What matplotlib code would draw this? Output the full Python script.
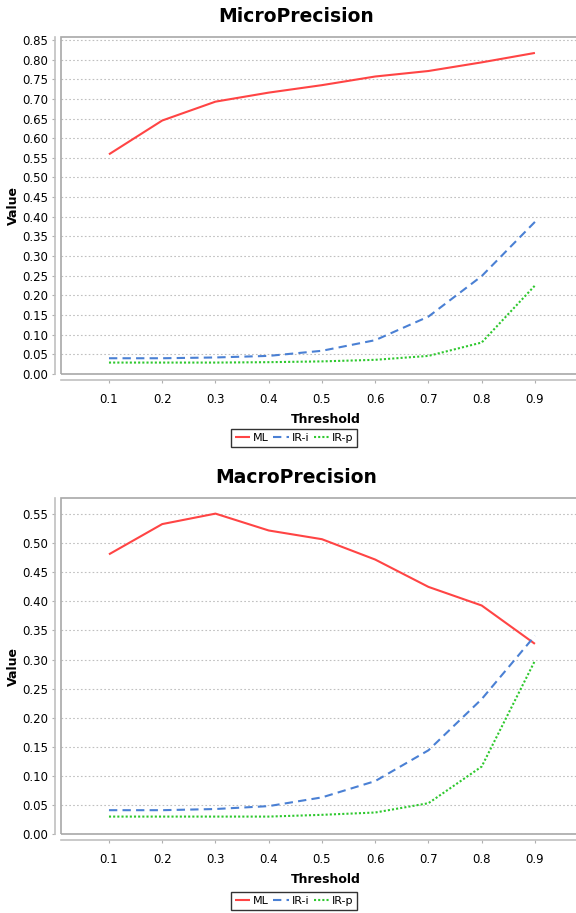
import matplotlib
matplotlib.use("Agg")
import matplotlib.pyplot as plt
from matplotlib.patches import Rectangle

plt.rcParams['font.family'] = ['DejaVu Sans']

thresholds = [0.1, 0.2, 0.3, 0.4, 0.5, 0.6, 0.7, 0.8, 0.9]
tick_labels = ['0.1', '0.2', '0.3', '0.4', '0.5', '0.6', '0.7', '0.8', '0.9']

# MicroPrecision
micro_ml = [0.559, 0.645, 0.693, 0.716, 0.735, 0.757, 0.771, 0.793, 0.817]
micro_iri = [0.040, 0.040, 0.042, 0.046, 0.059, 0.086, 0.146, 0.249, 0.387]
micro_irp = [0.029, 0.029, 0.029, 0.030, 0.032, 0.036, 0.046, 0.080, 0.225]

# MacroPrecision
macro_ml = [0.481, 0.533, 0.551, 0.522, 0.507, 0.472, 0.425, 0.393, 0.327]
macro_iri = [0.041, 0.041, 0.043, 0.048, 0.063, 0.091, 0.144, 0.232, 0.341]
macro_irp = [0.030, 0.030, 0.030, 0.030, 0.033, 0.037, 0.053, 0.116, 0.298]

series_names = ['ML', 'IR-i', 'IR-p']

RED = '#ff4444'
BLUE = '#4a80d4'
GREEN = '#2ec82e'
GRAY = '#a8a8a8'


def draw_panel(ax, ml, iri, irp, ymax):
    ax.plot(thresholds, ml, color=RED, lw=1.5, solid_capstyle='butt')
    ax.plot(thresholds, iri, color=BLUE, lw=1.5, dashes=(4, 2.5))
    ax.plot(thresholds, irp, color=GREEN, lw=1.5, dashes=(1, 1))

    ax.set_xlim(0.0099, 1.003)
    ax.set_ylim(0, ymax)
    ax.set_xticks(thresholds)
    ax.set_xticklabels(tick_labels)
    yt = [i * 0.05 for i in range(int(ymax / 0.05 + 1e-6) + 1)]
    ax.set_yticks(yt)
    ax.set_yticklabels(['%.2f' % v for v in yt])

    ax.yaxis.grid(True, color='#c0c0c0', ls=(0, (1.5, 2)), lw=0.8)
    ax.set_axisbelow(True)

    for s in ['top', 'right']:
        ax.spines[s].set_visible(False)
    for s in ['left', 'bottom']:
        ax.spines[s].set_position(('outward', 4))
        ax.spines[s].set_color('#c0c0c0')
        ax.spines[s].set_linewidth(1.2)
    # plot frame; the right side runs past the figure edge
    ax.add_patch(Rectangle((0, 0), 1, 1, transform=ax.transAxes, fill=False,
                           ec=GRAY, lw=1.2, clip_on=False, zorder=5))

    ax.tick_params(axis='both', colors='#b0b0b0', labelcolor='black',
                   labelsize=8.5, length=2, width=0.8, pad=3)
    ax.tick_params(axis='x', pad=8)

    ax.set_xlabel('Threshold', fontsize=9, fontweight='bold', labelpad=5)
    ax.set_ylabel('Value', fontsize=9, fontweight='bold', labelpad=2)


fig = plt.figure(figsize=(5.76, 9.13), dpi=100)
ax1 = fig.add_axes([0.1059, 0.5904, 0.918, 0.3691])
ax2 = fig.add_axes([0.1059, 0.0865, 0.918, 0.3675])

draw_panel(ax1, micro_ml, micro_iri, micro_irp, 0.8576)
draw_panel(ax2, macro_ml, macro_iri, macro_irp, 0.577)

fig.text(296 / 576, 1 - 17 / 913, 'MicroPrecision', ha='center', va='center',
         fontsize=13.5, fontweight='bold')
fig.text(296 / 576, 1 - 477 / 913, 'MacroPrecision', ha='center', va='center',
         fontsize=13.5, fontweight='bold')

for ax, ycen in [(ax1, 1 - 438 / 913), (ax2, 1 - 901 / 913)]:
    leg = fig.legend(ax.get_lines(), series_names, loc='center',
                     bbox_to_anchor=(294 / 576, ycen), ncol=3, fontsize=8,
                     frameon=True, fancybox=False, handlelength=1.4,
                     handletextpad=0.25, columnspacing=0.4, borderpad=0.35,
                     borderaxespad=0)
    leg.get_frame().set_edgecolor('black')
    leg.get_frame().set_linewidth(1.0)

fig.savefig('out.png', dpi=100)
